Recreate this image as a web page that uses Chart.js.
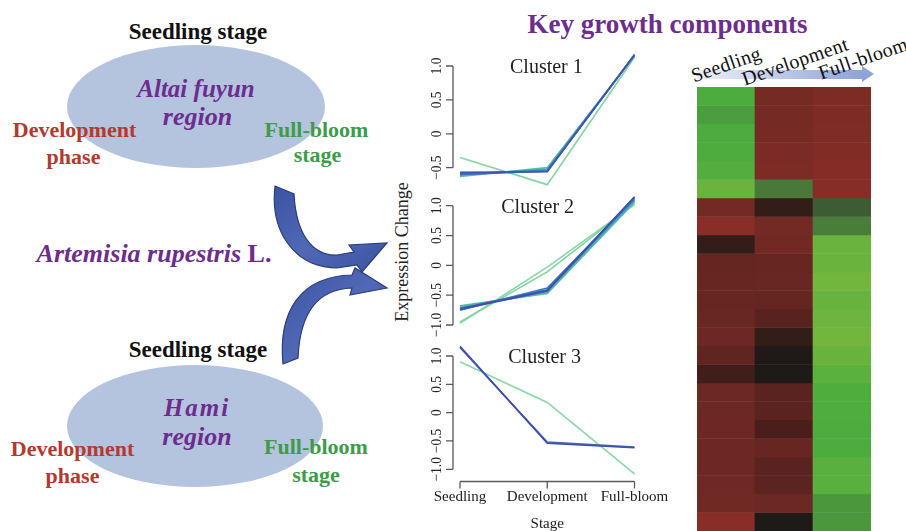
<!DOCTYPE html>
<html>
<head>
<meta charset="utf-8">
<script src="https://cdn.jsdelivr.net/npm/chart.js@4.4.1/dist/chart.umd.min.js"></script>
<style>
  body { margin: 0; background: #fff; }
  #fig { position: relative; width: 906px; height: 531px; overflow: hidden; font-family: "Liberation Serif", "Times New Roman", serif; }
  .t { position: absolute; white-space: nowrap; line-height: 1; transform: translate(-50%, -50%); }
  .blk { font-weight: bold; color: #111; font-size: 23px; }
  .pur { color: #6c2d8e; font-style: italic; font-weight: bold; font-size: 25px; }
  .red { color: #b5392d; font-weight: bold; font-size: 22px; }
  .grn { color: #3d9b4a; font-weight: bold; font-size: 22px; }
  .hd { font-size: 20px; color: #111; letter-spacing: 0.3px; }
  .ell { position: absolute; background: #b5c4de; border-radius: 50%; }
  canvas { position: absolute; }
  svg { position: absolute; left: 0; top: 0; }
</style>
</head>
<body>
<div id="fig">
  <div class="ell" style="left:67px;top:45px;width:258px;height:123px;"></div>
  <div class="ell" style="left:67px;top:365px;width:256px;height:122px;"></div>

  <div class="t blk" style="left:198px;top:30.5px;">Seedling stage</div>
  <div class="t pur" style="left:196px;top:88px;">Altai fuyun</div>
  <div class="t pur" style="left:197.5px;top:116.5px;font-size:26px;">region</div>
  <div class="t red" style="left:74.5px;top:130px;">Development</div>
  <div class="t red" style="left:73.5px;top:156.5px;">phase</div>
  <div class="t grn" style="left:316.5px;top:130px;">Full-bloom</div>
  <div class="t grn" style="left:317.5px;top:155px;">stage</div>

  <div class="t pur" style="left:154px;top:253.5px;font-size:26px;">Artemisia rupestris <span style="font-style:normal">L.</span></div>

  <div class="t blk" style="left:198px;top:349px;">Seedling stage</div>
  <div class="t pur" style="left:197px;top:406.5px;letter-spacing:2px;">Hami</div>
  <div class="t pur" style="left:197px;top:436.5px;font-size:26px;">region</div>
  <div class="t red" style="left:72.5px;top:449px;">Development</div>
  <div class="t red" style="left:72.5px;top:476px;">phase</div>
  <div class="t grn" style="left:316px;top:447px;">Full-bloom</div>
  <div class="t grn" style="left:316px;top:474.5px;">stage</div>

  <svg width="906" height="531">
    <defs>
      <linearGradient id="arrowFill" x1="0" y1="0" x2="1" y2="1">
        <stop offset="0" stop-color="#3b54a2"/>
        <stop offset="0.5" stop-color="#5068b6"/>
        <stop offset="1" stop-color="#3b54a2"/>
      </linearGradient>
    </defs>
    <path d="M283,364 C278,312 300,276 352,275 L355,268 L387,288 L350,295 L352,288 C318,289 300,312 298,358 Z"
          fill="url(#arrowFill)" stroke="#2d3c7c" stroke-width="1.2"/>
    <path d="M275,186 C270,229 292,267 337,268 L357,265 L362,272 L387,243 L349,245 L354,252 L337,255 C311,256 296,232 294,194 Z"
          fill="url(#arrowFill)" stroke="#2d3c7c" stroke-width="1.2"/>
  </svg>

  <div class="t" style="left:667.5px;top:24px;font-size:27px;font-weight:bold;color:#6c2d8e;">Key growth components</div>
  <div class="t" style="left:402px;top:252px;font-size:18px;color:#222;transform:translate(-50%,-50%) rotate(-90deg);">Expression Change</div>

  <canvas id="c1" width="300" height="165" style="left:380px;top:40px;"></canvas>
  <canvas id="c2" width="300" height="160" style="left:380px;top:185px;"></canvas>
  <canvas id="c3" width="300" height="196" style="left:380px;top:335px;"></canvas>

  <div style="position:absolute;left:697px;top:70px;width:165px;height:9px;background:linear-gradient(to right, rgba(200,212,238,0.35), #8fa3d9);"></div>
  <div style="position:absolute;left:862px;top:66px;width:0;height:0;border-left:12px solid #8fa3d9;border-top:8.5px solid transparent;border-bottom:8.5px solid transparent;"></div>
  <div class="t hd" style="left:726px;top:64px;transform:translate(-50%,-50%) rotate(-19deg);">Seedling</div>
  <div class="t hd" style="left:795px;top:61px;transform:translate(-50%,-50%) rotate(-19deg);">Development</div>
  <div class="t hd" style="left:863px;top:58px;transform:translate(-50%,-50%) rotate(-19deg);">Full-bloom</div>

  <canvas id="heat" width="174" height="444" style="left:697px;top:87px;"></canvas>
</div>

<script>
// stages on the x axis
const stages = ["Seedling", "Development", "Full-bloom"];

// gene profiles per cluster: [seedling, development, full-bloom]
const cluster1Profiles = [
    [-0.35, -0.75, 1.13],
    [-0.63, -0.50, 1.15],
    [-0.61, -0.52, 1.16],
    [-0.59, -0.54, 1.16],
    [-0.60, -0.55, 1.16],
    [-0.57, -0.56, 1.17]
];
const cluster1Membership = [0.32, 0.5, 0.65, 0.75, 0.85, 0.95];

const cluster2Profiles = [
    [-0.97, -0.03, 1.02],
    [-0.95, -0.11, 1.03],
    [-0.68, -0.47, 1.06],
    [-0.70, -0.45, 1.08],
    [-0.72, -0.41, 1.10],
    [-0.75, -0.38, 1.12],
    [-0.74, -0.43, 1.14],
    [-0.73, -0.42, 1.15]
];
const cluster2Membership = [0.3, 0.34, 0.5, 0.6, 0.7, 0.8, 0.9, 0.97];

const cluster3Profiles = [
    [0.90, 0.18, -1.08],
    [1.15, -0.52, -0.61],
    [1.17, -0.54, -0.62]
];
const cluster3Membership = [0.3, 0.85, 0.97];

const yTicksCluster1 = [-0.5, 0, 0.5, 1.0];
const yTicksCluster23 = [-1.0, -0.5, 0, 0.5, 1.0];

// heatmap, one value per gene row (top to bottom)
const heatSeedling = [
    -0.75, -0.66, -0.75, -0.76, -0.8, -0.95, 0.78, 1.0, 0.15, 0.6, 0.62, 0.62,
    0.63, 0.7, 0.56, 0.25, 0.68, 0.68, 0.7, 0.68, 0.7, 0.72, 0.74, 0.98
];
const heatDevelopment = [
    0.8, 0.79, 0.81, 0.84, 0.86, -0.42, 0.15, 0.77, 0.75, 0.62, 0.63, 0.6,
    0.45, 0.15, 0.02, 0.01, 0.48, 0.48, 0.3, 0.62, 0.48, 0.5, 0.68, 0.01
];
const heatFullBloom = [
    0.86, 0.88, 0.9, 0.92, 0.95, 0.97, -0.2, -0.45, -0.95, -0.95, -1.0, -0.93,
    -0.97, -1.0, -0.93, -0.85, -0.77, -0.77, -0.76, -0.75, -0.84, -0.84, -0.62, -0.62
];

const memberStops = [[0.3, "#8dd8a8"], [0.5, "#5cc296"], [0.65, "#3fa9bd"], [0.8, "#3a78c4"], [1.0, "#4545a6"]];
const heatStops = [
    [-1.0, "#72b63e"], [-0.75, "#4cac3e"], [-0.45, "#4a7c3a"], [-0.2, "#3e5c34"], [0, "#1c1a17"],
    [0.3, "#4a1f1b"], [0.6, "#652622"], [0.8, "#762a24"], [1.0, "#8a2d27"]
];

function hexToRgb(h) {
    const n = parseInt(h.slice(1), 16);
    return [n >> 16, (n >> 8) & 255, n & 255];
}

function interpColor(stops, v) {
    if (v <= stops[0][0]) return stops[0][1];
    for (let i = 1; i < stops.length; i++) {
        if (v <= stops[i][0]) {
            const [v0, c0] = stops[i - 1];
            const [v1, c1] = stops[i];
            const t = (v - v0) / (v1 - v0);
            const a = hexToRgb(c0), b = hexToRgb(c1);
            return "rgb(" + a.map((x, k) => Math.round(x + (b[k] - x) * t)).join(",") + ")";
        }
    }
    return stops[stops.length - 1][1];
}

function fmt(v) {
    if (v === 0) return "0";
    return (v < 0 ? "\u2212" : "") + Math.abs(v).toFixed(1);
}

// R-like axes: axis line only over the tick range, rotated y labels, panel title
const rAxes = {
    id: "rAxes",
    afterDraw(chart, args, opts) {
        const { ctx, chartArea, scales: { x, y } } = chart;
        const left = chartArea.left;
        const yt = opts.yTicks;
        ctx.save();
        ctx.strokeStyle = "#5a5a5a";
        ctx.lineWidth = 1.3;
        ctx.beginPath();
        ctx.moveTo(left, y.getPixelForValue(yt[0]));
        ctx.lineTo(left, y.getPixelForValue(yt[yt.length - 1]));
        yt.forEach((v) => {
            const py = y.getPixelForValue(v);
            ctx.moveTo(left, py);
            ctx.lineTo(left - 7, py);
        });
        if (opts.xAxis) {
            const bottom = chartArea.bottom;
            ctx.moveTo(x.getPixelForValue(1), bottom);
            ctx.lineTo(x.getPixelForValue(stages.length), bottom);
            stages.forEach((s, i) => {
                const px = x.getPixelForValue(i + 1);
                ctx.moveTo(px, bottom);
                ctx.lineTo(px, bottom + 7);
            });
        }
        ctx.stroke();

        ctx.fillStyle = "#222";
        ctx.font = '15px "Liberation Serif"';
        ctx.textAlign = "center";
        ctx.textBaseline = "middle";
        yt.forEach((v) => {
            ctx.save();
            ctx.translate(left - 16, y.getPixelForValue(v));
            ctx.rotate(-Math.PI / 2);
            ctx.scale(0.9, 1);
            ctx.fillText(fmt(v), 0, 0);
            ctx.restore();
        });

        ctx.font = '20px "Liberation Serif"';
        ctx.textBaseline = "alphabetic";
        ctx.fillText(opts.title, x.getPixelForValue(opts.titleX), y.getPixelForValue(1) + 7);
        ctx.restore();
    }
};

function makeCluster(canvasId, profiles, membership, o) {
    const datasets = profiles.map((p, i) => ({
        data: p.map((v, k) => ({ x: k + 1, y: v })),
        borderColor: interpColor(memberStops, membership[i]),
        borderWidth: 1.7,
        pointRadius: 0,
        tension: 0,
        fill: false,
        order: Math.round((1 - membership[i]) * 100)
    }));

    const xScale = {
        type: "linear",
        min: 0.9198,
        max: 3.0802,
        display: o.xAxis,
        grid: { display: false, drawTicks: false },
        border: { display: false },
        afterBuildTicks: (s) => { s.ticks = stages.map((_, i) => ({ value: i + 1 })); },
        ticks: {
            padding: 7,
            autoSkip: false,
            maxRotation: 0,
            color: "#222",
            font: { family: "Liberation Serif", size: 15 },
            callback: (v) => stages[v - 1]
        },
        title: {
            display: true,
            text: "Stage",
            color: "#222",
            font: { family: "Liberation Serif", size: 15 },
            padding: { top: 0, bottom: -2 }
        }
    };
    if (o.xAxis) xScale.afterFit = (s) => { s.height = 49.5; };

    new Chart(document.getElementById(canvasId), {
        type: "line",
        data: { datasets },
        options: {
            responsive: false,
            animation: false,
            devicePixelRatio: 1,
            layout: { padding: { top: o.padTop, bottom: o.padBottom, left: 0, right: 38.5 } },
            plugins: {
                legend: { display: false },
                tooltip: { enabled: false },
                rAxes: { yTicks: o.yTicks, xAxis: o.xAxis, title: o.title, titleX: o.titleX }
            },
            scales: {
                x: xScale,
                y: {
                    min: o.min,
                    max: o.max,
                    grid: { display: false },
                    border: { display: false },
                    ticks: { display: false },
                    afterFit: (s) => { s.width = 73; }
                }
            }
        },
        plugins: [rAxes]
    });
}

makeCluster("c1", cluster1Profiles, cluster1Membership, {
    title: "Cluster 1", titleX: 1.99, yTicks: yTicksCluster1, xAxis: false,
    padTop: 9, padBottom: 15, min: -0.829, max: 1.2507
});
makeCluster("c2", cluster2Profiles, cluster2Membership, {
    title: "Cluster 2", titleX: 1.89, yTicks: yTicksCluster23, xAxis: false,
    padTop: 6.7, padBottom: 16.7, min: -1.0553, max: 1.2347
});
makeCluster("c3", cluster3Profiles, cluster3Membership, {
    title: "Cluster 3", titleX: 1.97, yTicks: yTicksCluster23, xAxis: true,
    padTop: 6, padBottom: 0, min: -1.2154, max: 1.2648
});

// heatmap as stacked bars: one dataset per gene row
new Chart(document.getElementById("heat"), {
    type: "bar",
    data: {
        labels: stages,
        datasets: heatSeedling.map((_, i) => ({
            data: stages.map(() => 1),
            backgroundColor: [heatSeedling[i], heatDevelopment[i], heatFullBloom[i]].map((v) => interpColor(heatStops, v)),
            borderWidth: 0,
            barPercentage: 1,
            categoryPercentage: 1,
            stack: "genes"
        }))
    },
    options: {
        responsive: false,
        animation: false,
        devicePixelRatio: 1,
        layout: { padding: 0 },
        plugins: { legend: { display: false }, tooltip: { enabled: false } },
        scales: {
            x: { display: false, stacked: true },
            y: { display: false, stacked: true, min: 0, max: heatSeedling.length, reverse: true }
        }
    }
});
</script>
</body>
</html>
